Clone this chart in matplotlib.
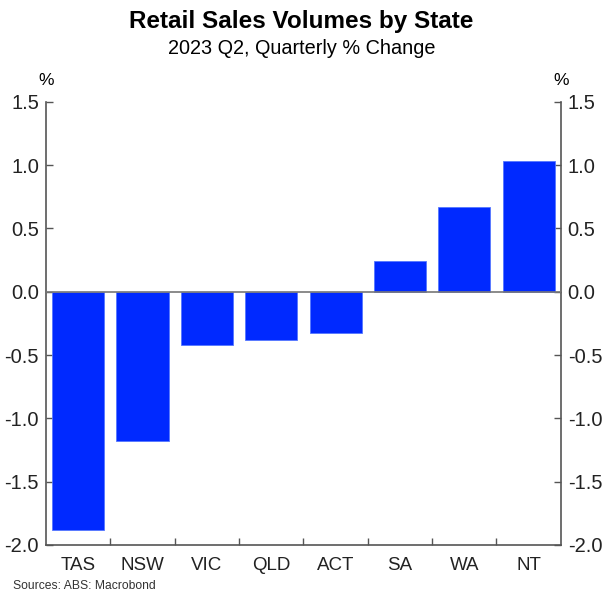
import matplotlib
matplotlib.use('Agg')
import matplotlib.pyplot as plt
import numpy as np

plt.rcParams['font.family'] = ['Liberation Sans', 'DejaVu Sans']

states = ['TAS', 'NSW', 'VIC', 'QLD', 'ACT', 'SA', 'WA', 'NT']
change = [-1.88, -1.18, -0.42, -0.38, -0.33, 0.24, 0.67, 1.03]

BLUE = '#0029FF'
GREY = '#555555'

fig = plt.figure(figsize=(6.03, 5.92), dpi=100)
ax = fig.add_axes([0.0763, 0.0794, 0.8537, 0.7488])

x = np.arange(len(states))
ax.bar(x, change, width=0.81, color=BLUE, edgecolor='#5577ff', linewidth=0.6, zorder=2)
ax.axhline(0, color='#777777', lw=1.2, zorder=3)

ax.set_xlim(-0.5, len(states) - 0.5)
ax.set_ylim(-2.0, 1.5)
yt = np.arange(-2.0, 1.51, 0.5)
ax.set_yticks(yt)
ax.set_yticklabels([f'{v:.1f}' for v in yt])
ax.set_xticks(x)
ax.set_xticklabels(states)
ax.set_xticks(np.arange(0.5, len(states) - 0.5), minor=True)

ax.tick_params(axis='y', which='both', direction='in', length=5, width=1, color=GREY,
               labelsize=14.5, left=True, right=True, labelleft=True, labelright=True, pad=5,
               labelcolor='#222222')
ax.tick_params(axis='x', which='major', length=0, labelsize=13.5, pad=9, labelcolor='#222222')
ax.tick_params(axis='x', which='minor', direction='in', length=5, width=1, color=GREY)

ax.spines['top'].set_visible(False)
for s in ['left', 'right', 'bottom']:
    ax.spines[s].set_color(GREY)
    ax.spines[s].set_linewidth(1.2)

ax.text(0.0, 1.03, '%', transform=ax.transAxes, ha='center', va='bottom', fontsize=12.5)
ax.text(1.0, 1.03, '%', transform=ax.transAxes, ha='center', va='bottom', fontsize=12.5)

fig.text(0.5, 0.963, 'Retail Sales Volumes by State', ha='center', va='center',
         fontsize=17.5, fontweight='bold')
fig.text(0.5, 0.918, '2023 Q2, Quarterly % Change', ha='center', va='center', fontsize=14.3)
fig.text(0.021, 0.0, 'Sources: ABS: Macrobond', ha='left', va='bottom', fontsize=8.7,
         color='#333333')

fig.savefig('out.png', dpi=100, facecolor='white')
